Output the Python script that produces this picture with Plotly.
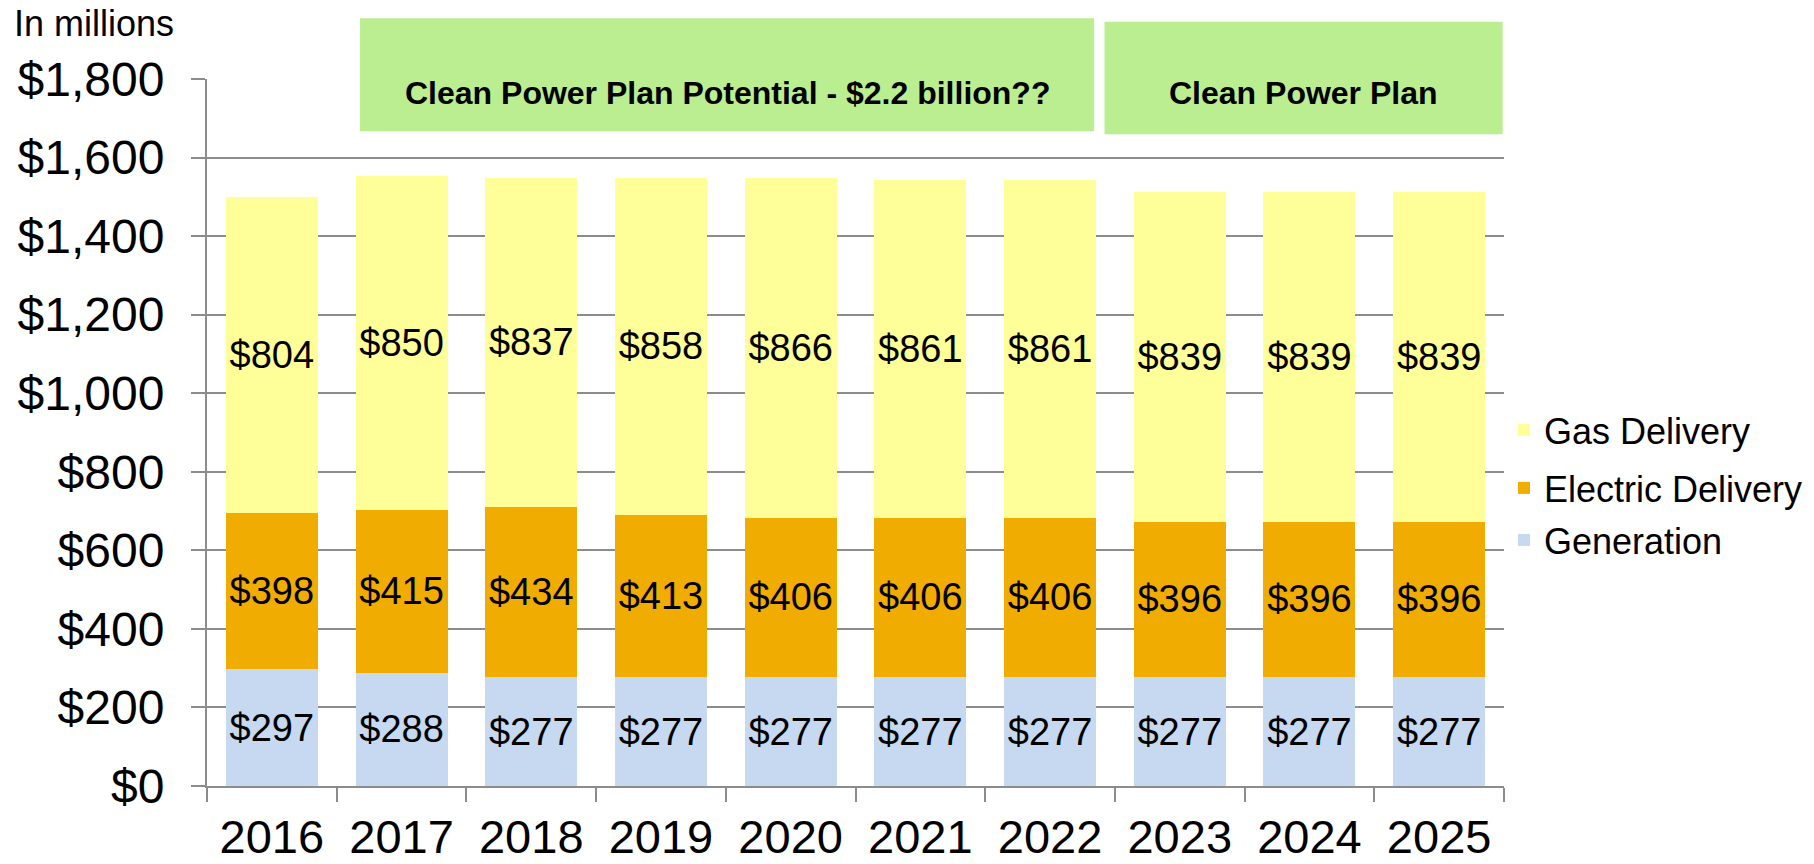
import plotly.graph_objects as go

years = ["2016", "2017", "2018", "2019", "2020", "2021", "2022", "2023", "2024", "2025"]
generation = [297, 288, 277, 277, 277, 277, 277, 277, 277, 277]
electric = [398, 415, 434, 413, 406, 406, 406, 396, 396, 396]
gas = [804, 850, 837, 858, 866, 861, 861, 839, 839, 839]

FONT = "Liberation Sans, Arial, sans-serif"
GRID = "#8c8c8c"

fig = go.Figure()
series = [
    ("Generation", generation, "#C6D9F1", "legend3"),
    ("Electric Delivery", electric, "#F0AC00", "legend2"),
    ("Gas Delivery", gas, "#FFFF99", "legend"),
]
for name, vals, color, leg in series:
    fig.add_trace(go.Bar(
        x=years, y=vals, name=name, legend=leg,
        marker=dict(color=color, line=dict(width=0)),
        text=[f"${v}" for v in vals], textposition="inside",
        insidetextanchor="middle", textangle=0,
        insidetextfont=dict(size=38, color="black", family=FONT),
    ))

leg_common = dict(font=dict(size=36, color="black", family=FONT),
                  bgcolor="rgba(0,0,0,0)", xanchor="left", yanchor="middle",
                  x=1.0, itemclick=False)
fig.update_layout(
    width=1814, height=864,
    margin=dict(l=207, r=310, t=79, b=78, autoexpand=False),
    barmode="stack", bargap=0.29,
    plot_bgcolor="white", paper_bgcolor="white",
    font=dict(family=FONT, color="black"),
    showlegend=True,
    legend=dict(**leg_common, y=(786 - 430) / 707),
    legend2=dict(**leg_common, y=(786 - 488) / 707),
    legend3=dict(**leg_common, y=(786 - 540) / 707),
    xaxis=dict(
        type="category", tickson="boundaries", ticks="outside", ticklen=14,
        tickcolor=GRID, tickwidth=2, showline=True, linecolor=GRID, linewidth=2,
        showgrid=False, tickfont=dict(size=47, family=FONT, color="black"),
        ticklabelstandoff=9, automargin=False,
    ),
    yaxis=dict(
        range=[0, 1800], dtick=200, tickprefix="$", tickformat=",",
        ticks="outside", ticklen=14, tickcolor=GRID, tickwidth=2,
        showline=True, linecolor=GRID, linewidth=2,
        showgrid=True, gridcolor=GRID, gridwidth=2, zeroline=False,
        tickfont=dict(size=48, family=FONT, color="black"),
        ticklabelstandoff=17, automargin=False,
    ),
)

GREEN = "#BBEE91"
fig.add_shape(type="rect", xref="x", yref="paper", x0=0.68, x1=6.34, y0=0.926, y1=1.086,
              fillcolor=GREEN, line=dict(width=0), layer="above")
fig.add_shape(type="rect", xref="x", yref="paper", x0=6.42, x1=9.49, y0=0.922, y1=1.081,
              fillcolor=GREEN, line=dict(width=0), layer="above")
fig.add_annotation(x=3.51, y=1.008, xref="x", yref="paper", showarrow=False,
                   text="<b>Clean Power Plan Potential - $2.2 billion??</b>",
                   font=dict(size=32, family=FONT, color="black"))
fig.add_annotation(x=7.955, y=1.008, xref="x", yref="paper", showarrow=False,
                   text="<b>Clean Power Plan</b>",
                   font=dict(size=32, family=FONT, color="black"))
fig.add_annotation(x=(12 - 207) / 1297, y=(786 - 1) / 707, xref="paper", yref="paper",
                   xanchor="left", yanchor="top", showarrow=False,
                   text="In millions", font=dict(size=36, family=FONT, color="black"))

fig.write_html(
    "out.html",
    config={"displayModeBar": False},
    post_script="document.body.style.margin='0';document.body.style.overflow='hidden';",
)
